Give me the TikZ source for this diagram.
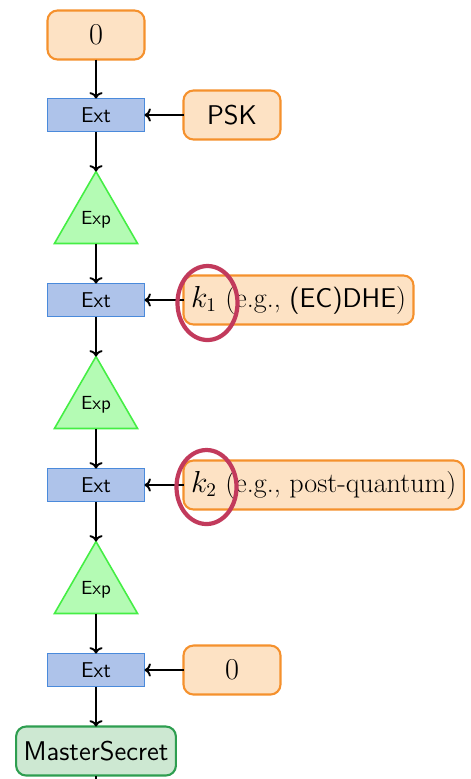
\documentclass[tikz,border=0pt]{standalone}
\usepackage{tikz}
\usetikzlibrary{positioning,shapes.geometric,arrows.meta}

\definecolor{keyedge}{RGB}{245,145,45}
\definecolor{keyfill}{RGB}{253,226,196}
\definecolor{extedge}{RGB}{74,138,219}
\definecolor{extfill}{RGB}{174,195,234}
\definecolor{expedge}{RGB}{68,238,68}
\definecolor{expfill}{RGB}{180,251,180}
\definecolor{msedge}{RGB}{46,158,80}
\definecolor{msfill}{RGB}{205,232,210}
\definecolor{ringcol}{RGB}{194,58,92}

\tikzset{
	keybox/.style={draw=keyedge, fill=keyfill, line width=1.2pt, outer sep=0pt,
		rounded corners=0.2cm, minimum width=1.94cm, minimum height=0.98cm,
		inner xsep=0.15cm, font=\fontsize{16}{18}\selectfont},
	extbox/.style={draw=extedge, fill=extfill, line width=0.7pt, outer sep=0pt,
		minimum width=1.94cm, minimum height=0.66cm, inner sep=0pt,
		font=\sffamily\fontsize{12.2}{14}\selectfont},
	exptri/.style={draw=expedge, fill=expfill, line width=0.9pt, outer sep=0pt,
		regular polygon, regular polygon sides=3, minimum size=1.92cm,
		inner sep=0pt, font=\sffamily\fontsize{10.8}{12}\selectfont},
	msbox/.style={draw=msedge, fill=msfill, line width=1.2pt, outer sep=0pt,
		rounded corners=0.2cm, minimum height=0.98cm, inner xsep=0.15cm,
		font=\sffamily\fontsize{15.4}{17}\selectfont},
	hilite/.style={draw=ringcol, line width=2.4pt, ellipse,
		minimum width=1.2cm, minimum height=1.48cm, inner sep=0pt},
	flow/.style={-{To[length=3.6pt,width=7.5pt]}, line width=1.1pt}
}
\newcommand{\sfkey}[1]{{\sffamily\fontsize{15.4}{17}\selectfont #1}}

\begin{document}
\begin{tikzpicture}

	\useasboundingbox (0,0) rectangle (9.42,-15.58);

	% main chain
	\node[keybox] (salt) at (1.92,-0.70) {$0$};
	\node[extbox] (ext1) [below = 0.78cm of salt] {Ext};
	\node[exptri] (exp1) [below = 0.8cm of ext1] {Exp};
	\node[extbox] (ext2) [below = 0.8cm of exp1] {Ext};
	\node[exptri] (exp2) [below = 0.8cm of ext2] {Exp};
	\node[extbox] (ext3) [below = 0.8cm of exp2] {Ext};
	\node[exptri] (exp3) [below = 0.8cm of ext3] {Exp};
	\node[extbox] (ext4) [below = 0.8cm of exp3] {Ext};
	\node[msbox] (ms) [below = 0.8cm of ext4] {MasterSecret};
	\coordinate[below = 0.4cm of ms] (msout);

	% inputs on the right
	\node[keybox] (psk) [right = 0.78cm of ext1] {\sfkey{PSK}};
	\node[keybox] (k1) [right = 0.78cm of ext2] {$k_1$ (e.g., \sfkey{(EC)DHE})};
	\node[keybox] (k2) [right = 0.78cm of ext3] {$k_2$ (e.g., post-quantum)};
	\node[keybox] (zero) [right = 0.78cm of ext4] {$0$};

	\draw[flow] (salt.south) -- (ext1.north);
	\draw[flow] (ext1.south) -- (exp1.north);
	\draw[flow] (exp1.south) -- (ext2.north);
	\draw[flow] (ext2.south) -- (exp2.north);
	\draw[flow] (exp2.south) -- (ext3.north);
	\draw[flow] (ext3.south) -- (exp3.north);
	\draw[flow] (exp3.south) -- (ext4.north);
	\draw[flow] (ext4.south) -- (ms.north);
	\draw[line width=1.1pt] (ms.south) -- (msout);

	\draw[flow] (psk.west) -- (ext1.east);
	\draw[flow] (k1.west) -- (ext2.east);
	\draw[flow] (k2.west) -- (ext3.east);
	\draw[flow] (zero.west) -- (ext4.east);

	% rings round the keys
	\node[hilite] (ring1) at ([xshift=0.48cm,yshift=-0.06cm]k1.west) {};
	\node[hilite] (ring2) at ([xshift=0.46cm,yshift=-0.04cm]k2.west) {};

\end{tikzpicture}
\end{document}
